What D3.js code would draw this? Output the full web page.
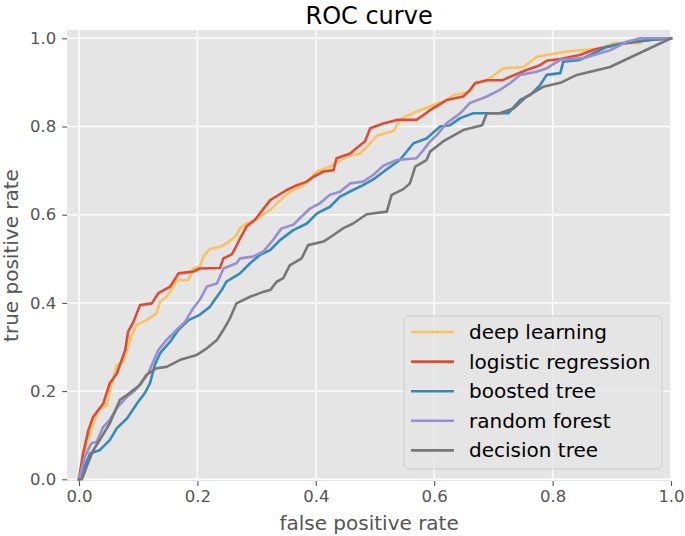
<!DOCTYPE html>
<html>
<head>
<meta charset="utf-8">
<script src="https://cdn.jsdelivr.net/npm/d3@7"></script>
<style>
  html, body { margin: 0; padding: 0; background: #ffffff; }
  svg { display: block; font-family: "DejaVu Sans", sans-serif; }
</style>
</head>
<body>
<div id="chart"></div>
<script>
// ---------------- data ----------------
const seriesNames = ["deep learning", "logistic regression", "boosted tree", "random forest", "decision tree"];
const seriesColors = ["#FBC15E", "#E24A33", "#348ABD", "#988ED5", "#777777"];
const xTicks = [0.0, 0.2, 0.4, 0.6, 0.8, 1.0];
const yTicks = [0.0, 0.2, 0.4, 0.6, 0.8, 1.0];

const deepLearning = [[0,0],[0.002,0.02],[0.013,0.082],[0.024,0.127],[0.033,0.157],[0.047,0.168],[0.052,0.202],[0.064,0.259],[0.075,0.267],[0.086,0.316],[0.097,0.35],[0.114,0.361],[0.131,0.376],[0.137,0.403],[0.148,0.414],[0.154,0.425],[0.165,0.452],[0.185,0.452],[0.193,0.478],[0.204,0.482],[0.21,0.505],[0.221,0.522],[0.238,0.527],[0.249,0.535],[0.264,0.55],[0.272,0.569],[0.283,0.58],[0.297,0.588],[0.323,0.611],[0.34,0.633],[0.356,0.652],[0.379,0.667],[0.402,0.698],[0.424,0.709],[0.452,0.732],[0.475,0.739],[0.486,0.754],[0.503,0.779],[0.531,0.79],[0.545,0.819],[0.576,0.837],[0.621,0.86],[0.632,0.871],[0.66,0.879],[0.669,0.898],[0.689,0.905],[0.717,0.932],[0.751,0.935],[0.773,0.958],[0.824,0.97],[0.88,0.977],[0.903,0.989],[0.948,0.989],[0.953,0.995],[1,1]];

const logisticRegression = [[0,0],[0.007,0.059],[0.016,0.112],[0.024,0.142],[0.041,0.172],[0.052,0.218],[0.064,0.24],[0.078,0.293],[0.083,0.335],[0.092,0.357],[0.103,0.395],[0.123,0.399],[0.134,0.422],[0.154,0.437],[0.168,0.467],[0.193,0.471],[0.204,0.478],[0.238,0.479],[0.244,0.501],[0.258,0.51],[0.264,0.524],[0.272,0.546],[0.283,0.573],[0.297,0.588],[0.323,0.633],[0.351,0.656],[0.368,0.667],[0.385,0.675],[0.396,0.686],[0.413,0.698],[0.43,0.701],[0.435,0.728],[0.458,0.739],[0.469,0.751],[0.483,0.766],[0.492,0.796],[0.514,0.807],[0.537,0.815],[0.57,0.815],[0.582,0.826],[0.593,0.837],[0.621,0.86],[0.649,0.868],[0.66,0.882],[0.669,0.898],[0.689,0.905],[0.716,0.905],[0.725,0.911],[0.756,0.928],[0.779,0.939],[0.79,0.949],[0.813,0.953],[0.846,0.962],[0.872,0.975],[0.914,0.987],[0.965,0.996],[1,1]];

const boostedTree = [[0,0],[0.002,0.006],[0.019,0.059],[0.035,0.066],[0.052,0.089],[0.064,0.116],[0.081,0.138],[0.1,0.176],[0.111,0.195],[0.12,0.218],[0.128,0.259],[0.137,0.286],[0.154,0.312],[0.168,0.339],[0.185,0.361],[0.204,0.373],[0.221,0.391],[0.241,0.429],[0.249,0.448],[0.272,0.467],[0.289,0.49],[0.306,0.509],[0.323,0.52],[0.34,0.543],[0.362,0.565],[0.385,0.58],[0.402,0.603],[0.424,0.618],[0.441,0.641],[0.463,0.656],[0.48,0.667],[0.497,0.68],[0.52,0.703],[0.542,0.724],[0.565,0.762],[0.587,0.773],[0.61,0.8],[0.627,0.803],[0.644,0.819],[0.666,0.83],[0.725,0.83],[0.745,0.86],[0.762,0.871],[0.779,0.894],[0.79,0.917],[0.813,0.921],[0.818,0.947],[0.846,0.951],[0.869,0.966],[0.891,0.98],[0.919,0.989],[0.953,0.995],[1,1]];

const randomForest = [[0,0],[0.01,0.051],[0.021,0.082],[0.03,0.085],[0.041,0.119],[0.052,0.135],[0.066,0.165],[0.081,0.187],[0.095,0.202],[0.106,0.221],[0.117,0.24],[0.123,0.259],[0.134,0.293],[0.148,0.316],[0.165,0.339],[0.179,0.357],[0.193,0.388],[0.204,0.407],[0.216,0.437],[0.233,0.444],[0.244,0.478],[0.266,0.49],[0.272,0.501],[0.294,0.505],[0.311,0.516],[0.328,0.543],[0.342,0.569],[0.362,0.577],[0.373,0.592],[0.39,0.614],[0.407,0.626],[0.424,0.645],[0.441,0.652],[0.458,0.671],[0.48,0.675],[0.497,0.69],[0.514,0.711],[0.537,0.724],[0.57,0.728],[0.582,0.747],[0.593,0.766],[0.604,0.78],[0.621,0.807],[0.644,0.83],[0.66,0.853],[0.689,0.868],[0.711,0.883],[0.728,0.898],[0.745,0.917],[0.773,0.924],[0.79,0.932],[0.813,0.951],[0.852,0.955],[0.88,0.966],[0.897,0.973],[0.908,0.98],[0.925,0.992],[0.948,1],[1,1]];

const decisionTree = [[0,0],[0.005,0],[0.013,0.029],[0.024,0.066],[0.035,0.089],[0.052,0.127],[0.069,0.18],[0.081,0.191],[0.103,0.214],[0.114,0.237],[0.131,0.252],[0.148,0.255],[0.171,0.271],[0.199,0.282],[0.216,0.297],[0.233,0.316],[0.244,0.339],[0.255,0.365],[0.266,0.399],[0.289,0.414],[0.311,0.425],[0.323,0.429],[0.334,0.448],[0.345,0.456],[0.356,0.485],[0.376,0.501],[0.387,0.531],[0.413,0.539],[0.43,0.554],[0.446,0.569],[0.463,0.58],[0.486,0.601],[0.52,0.607],[0.528,0.645],[0.548,0.658],[0.559,0.671],[0.568,0.709],[0.587,0.724],[0.593,0.743],[0.615,0.766],[0.649,0.792],[0.681,0.803],[0.689,0.83],[0.711,0.83],[0.734,0.841],[0.756,0.868],[0.784,0.89],[0.813,0.899],[0.841,0.917],[0.897,0.935],[1,1]];

const seriesData = [deepLearning, logisticRegression, boostedTree, randomForest, decisionTree];

// ---------------- chart ----------------
const W = 685, H = 536;
const xLim = [-0.02, 1.0], yLim = [-0.004, 1.019];
const x = d3.scaleLinear().domain([0, 1]).range([79, 671]);
const y = d3.scaleLinear().domain([0, 1]).range([479.3, 38.3]);

const svg = d3.select("#chart").append("svg").attr("width", W).attr("height", H);

const px0 = x(xLim[0]), px1 = x(xLim[1]), py0 = y(yLim[1]), py1 = y(yLim[0]);

svg.append("rect").attr("x", px0).attr("y", py0)
  .attr("width", px1 - px0).attr("height", py1 - py0).attr("fill", "#E5E5E5");

// grid
svg.append("g").selectAll("line").data(xTicks).join("line")
  .attr("x1", d => x(d)).attr("x2", d => x(d)).attr("y1", py0).attr("y2", py1)
  .attr("stroke", "#ffffff").attr("stroke-width", 1.4);
svg.append("g").selectAll("line").data(yTicks).join("line")
  .attr("y1", d => y(d)).attr("y2", d => y(d)).attr("x1", px0).attr("x2", px1)
  .attr("stroke", "#ffffff").attr("stroke-width", 1.4);

// axes
const xAxis = svg.append("g").attr("transform", `translate(0,${py1})`)
  .call(d3.axisBottom(x).tickValues(xTicks).tickFormat(d3.format(".1f")).tickSize(5).tickPadding(4));
const yAxis = svg.append("g").attr("transform", `translate(${px0},0)`)
  .call(d3.axisLeft(y).tickValues(yTicks).tickFormat(d3.format(".1f")).tickSize(5).tickPadding(6));
[xAxis, yAxis].forEach(g => {
  g.select(".domain").remove();
  g.selectAll(".tick line").attr("stroke", "#555555").attr("stroke-width", 1.1);
  g.selectAll(".tick text").attr("fill", "#555555")
    .style("font-family", "DejaVu Sans").style("font-size", "16.5px");
});

// lines
const line = d3.line().x(d => x(d[0])).y(d => y(d[1]));
svg.append("g").selectAll("path").data(seriesData).join("path")
  .attr("d", d => line(d))
  .attr("fill", "none")
  .attr("stroke", (d, i) => seriesColors[i])
  .attr("stroke-width", 2.6)
  .attr("stroke-linejoin", "round")
  .attr("stroke-linecap", "square");

// title and labels
svg.append("text").attr("x", (px0 + px1) / 2).attr("y", 24)
  .attr("text-anchor", "middle").attr("fill", "#000000")
  .style("font-size", "24px").text("ROC curve");
svg.append("text").attr("x", (px0 + px1) / 2).attr("y", 530)
  .attr("text-anchor", "middle").attr("fill", "#555555")
  .style("font-size", "20px").text("false positive rate");
svg.append("text")
  .attr("transform", `translate(18,${(py0 + py1) / 2}) rotate(-90)`)
  .attr("text-anchor", "middle").attr("fill", "#555555")
  .style("font-size", "20px").text("true positive rate");

// legend
const lg = svg.append("g").attr("transform", "translate(404,316)");
lg.append("rect").attr("width", 258).attr("height", 153).attr("rx", 5)
  .attr("fill", "#E5E5E5").attr("fill-opacity", 0.8)
  .attr("stroke", "#cccccc").attr("stroke-width", 1);
const items = lg.selectAll("g.item").data(seriesNames).join("g")
  .attr("class", "item")
  .attr("transform", (d, i) => `translate(0,${16 + i * 29.6})`);
items.append("line").attr("x1", 7).attr("x2", 50).attr("y1", 0).attr("y2", 0)
  .attr("stroke", (d, i) => seriesColors[i]).attr("stroke-width", 2.6);
items.append("text").attr("x", 65).attr("y", 0).attr("dy", "0.35em")
  .attr("fill", "#000000").style("font-size", "20px").text(d => d);
</script>
</body>
</html>
